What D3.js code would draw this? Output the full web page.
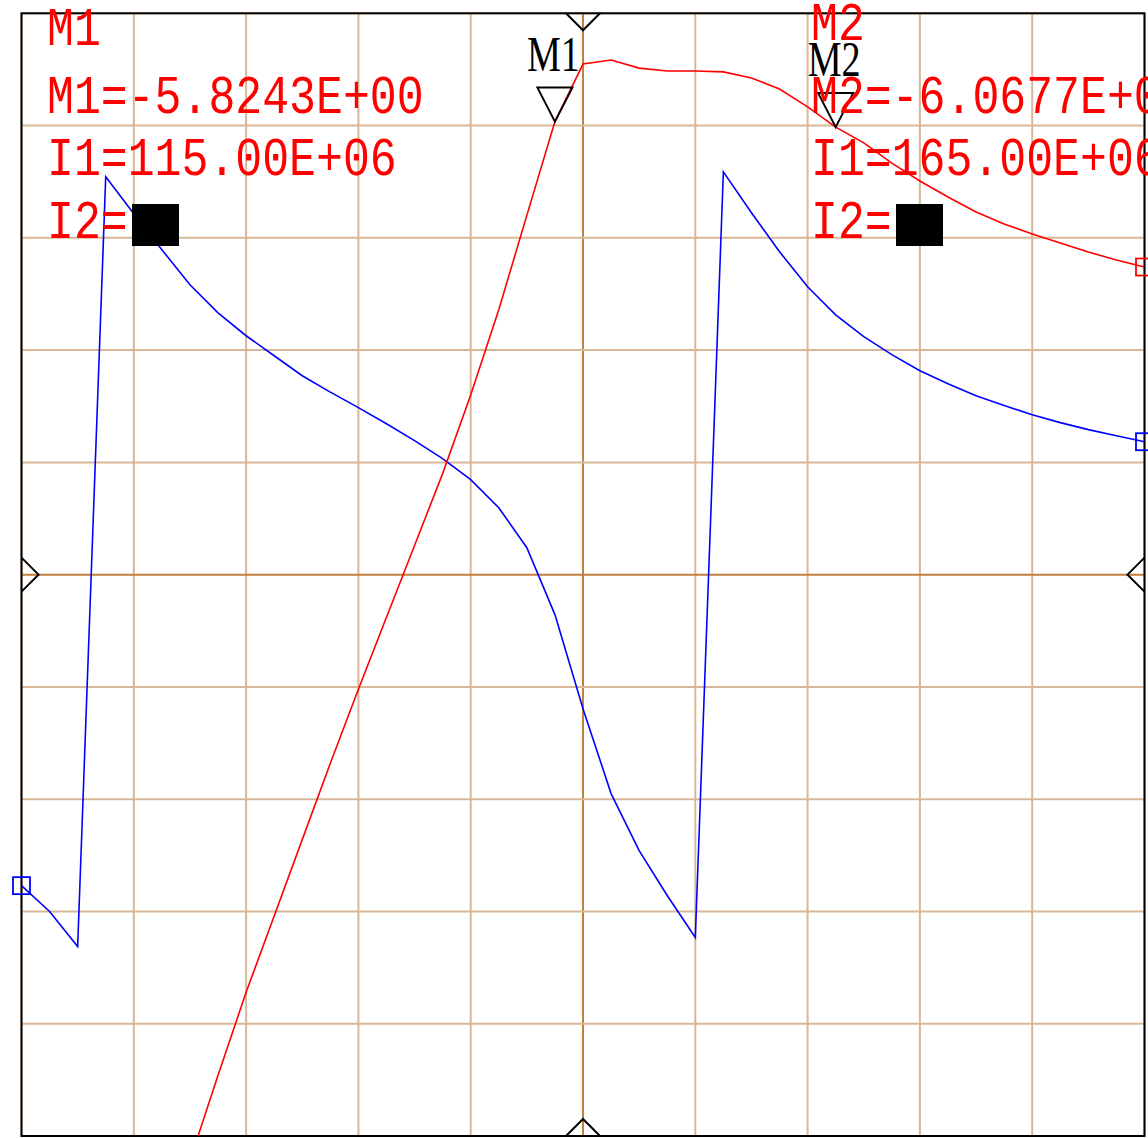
<!DOCTYPE html>
<html>
<head>
<meta charset="utf-8">
<script src="https://cdn.jsdelivr.net/npm/d3@7/dist/d3.min.js"></script>
<style>
  html, body { margin: 0; padding: 0; background: #fff; }
  svg { display: block; }
</style>
</head>
<body>
<script>
// ---------- data ----------
const freqMHz = [20,25,30,35,40,45,50,55,60,65,70,75,80,85,90,95,100,105,110,115,120,
                 125,130,135,140,145,150,155,160,165,170,175,180,185,190,195,200,205,210,215,220];
// red trace: magnitude (dB), 5 dB/div
const magDB = [-70.0,-66.0,-62.5,-59.5,-57.0,-54.5,-52.1,-48.3,-44.6,-41.2,-37.8,-34.4,-31.1,-27.9,-24.7,
               -21.5,-18.0,-14.2,-10.0,-5.8243,-3.26,-3.08,-3.44,-3.57,-3.57,-3.61,-3.88,-4.37,-5.17,-6.0677,
               -6.77,-7.67,-8.47,-9.18,-9.85,-10.38,-10.83,-11.23,-11.63,-11.99,-12.30];
// blue trace: phase (deg), 50 deg/div
const phaseDeg = [-138.5,-150.0,-165.6,177.2,160.7,144.7,129.1,116.6,106.4,97.5,88.6,81.3,74.4,67.2,59.7,
                  51.7,42.3,29.8,12.0,-17.8,-59.7,-97.5,-122.9,-142.9,-161.6,179.4,161.2,143.8,128.2,115.7,
                  106.0,98.0,90.8,85.0,79.7,75.3,71.2,67.7,64.6,61.9,59.2];
const xGridTicks = [20,40,60,80,100,120,140,160,180,200,220];
const yGridTicks = [-51,-46,-41,-36,-31,-26,-21,-16,-11,-6,-1];
const markers = [
  {name: "M1", freq: 115, value: -5.8243, valText: "M1=-5.8243E+00", iText: "I1=115.00E+06"},
  {name: "M2", freq: 165, value: -6.0677, valText: "M2=-6.0677E+00", iText: "I1=165.00E+06"}
];

// ---------- layout ----------
const W = 1148, H = 1138;
const L = 21.5, R = 1144.5, T = 13.3, B = 1136;
const x = d3.scaleLinear().domain([20, 220]).range([L, R]);
const yMag = d3.scaleLinear().domain([-51, -1]).range([B, T]);
const yPh = d3.scaleLinear().domain([-250, 250]).range([B, T]);

const svg = d3.select("body").append("svg").attr("width", W).attr("height", H);
svg.append("rect").attr("width", W).attr("height", H).attr("fill", "#fff");

svg.append("defs").append("clipPath").attr("id", "plotclip")
  .append("rect").attr("x", L).attr("y", T).attr("width", R - L).attr("height", B - T);

// grid
const grid = svg.append("g");
grid.selectAll("line.v").data(xGridTicks).join("line")
  .attr("x1", d => x(d)).attr("x2", d => x(d)).attr("y1", T).attr("y2", B)
  .attr("stroke", d => d === 120 ? "#c27f3e" : "#d8b796").attr("stroke-width", 2);
grid.selectAll("line.h").data(yGridTicks).join("line")
  .attr("x1", L).attr("x2", R).attr("y1", d => yMag(d)).attr("y2", d => yMag(d))
  .attr("stroke", d => d === -26 ? "#c27f3e" : "#d8b796").attr("stroke-width", 2);

// frame
svg.append("rect").attr("x", L).attr("y", T).attr("width", R - L).attr("height", B - T)
  .attr("fill", "none").attr("stroke", "#000").attr("stroke-width", 2);

// center tick markers on frame
const cx = x(120), cy = yMag(-26), s = 17;
const tickPaths = [
  `M${cx - s},${T} L${cx},${T + s} L${cx + s},${T}`,
  `M${cx - s},${B} L${cx},${B - s} L${cx + s},${B}`,
  `M${L},${cy - s} L${L + s},${cy} L${L},${cy + s}`,
  `M${R},${cy - s} L${R - s},${cy} L${R},${cy + s}`
];
svg.append("g").selectAll("path").data(tickPaths).join("path")
  .attr("d", d => d).attr("fill", "none").attr("stroke", "#000").attr("stroke-width", 2);

// traces
const plot = svg.append("g").attr("clip-path", "url(#plotclip)");
const magLine = d3.line().x((d, i) => x(freqMHz[i])).y(d => yMag(d));
const phLine = d3.line().x((d, i) => x(freqMHz[i])).y(d => yPh(d));
plot.append("path").attr("d", phLine(phaseDeg)).attr("fill", "none")
  .attr("stroke", "#0000ff").attr("stroke-width", 1.6);
plot.append("path").attr("d", magLine(magDB)).attr("fill", "none")
  .attr("stroke", "#ff0000").attr("stroke-width", 1.6);

// end squares
const sq = 17;
const last = freqMHz.length - 1;
const squares = [
  {x: x(freqMHz[0]), y: yPh(phaseDeg[0]), c: "#0000ff"},
  {x: x(freqMHz[last]), y: yPh(phaseDeg[last]), c: "#0000ff"},
  {x: x(freqMHz[last]), y: yMag(magDB[last]), c: "#ff0000"}
];
svg.append("g").selectAll("rect").data(squares).join("rect")
  .attr("x", d => d.x - sq / 2).attr("y", d => d.y - sq / 2)
  .attr("width", sq).attr("height", sq)
  .attr("fill", "none").attr("stroke", d => d.c).attr("stroke-width", 1.8);

// marker triangles and labels
const mg = svg.append("g");
markers.forEach(m => {
  const px = x(m.freq), py = yMag(m.value);
  mg.append("path")
    .attr("d", `M${px},${py} L${px - 17.5},${py - 34} L${px + 17.5},${py - 34} Z`)
    .attr("fill", "none").attr("stroke", "#000").attr("stroke-width", 2);
  mg.append("text").attr("x", px - 28).attr("y", py - 51)
    .attr("font-family", "Liberation Serif").attr("font-size", 50)
    .attr("textLength", 53).attr("lengthAdjust", "spacingAndGlyphs")
    .attr("fill", "#000").text(m.name);
});

// readout blocks
const blocks = [
  {x: 47, y0: 45, m: markers[0]},
  {x: 811, y0: 40, m: markers[1]}
];
const adv = 26.9;
blocks.forEach(b => {
  const g = svg.append("g").attr("font-family", "Liberation Mono").attr("font-size", 53).attr("fill", "#ff0000");
  const lines = [
    {t: b.m.name, y: b.y0},
    {t: b.m.valText, y: 113},
    {t: b.m.iText, y: 175},
    {t: "I2=", y: 238}
  ];
  lines.forEach(l => {
    g.append("text").attr("x", b.x).attr("y", l.y)
      .attr("textLength", l.t.length * adv).attr("lengthAdjust", "spacingAndGlyphs")
      .text(l.t);
  });
  svg.append("rect").attr("x", b.x + 85).attr("y", 204).attr("width", 47).attr("height", 42).attr("fill", "#000");
});
</script>
</body>
</html>
